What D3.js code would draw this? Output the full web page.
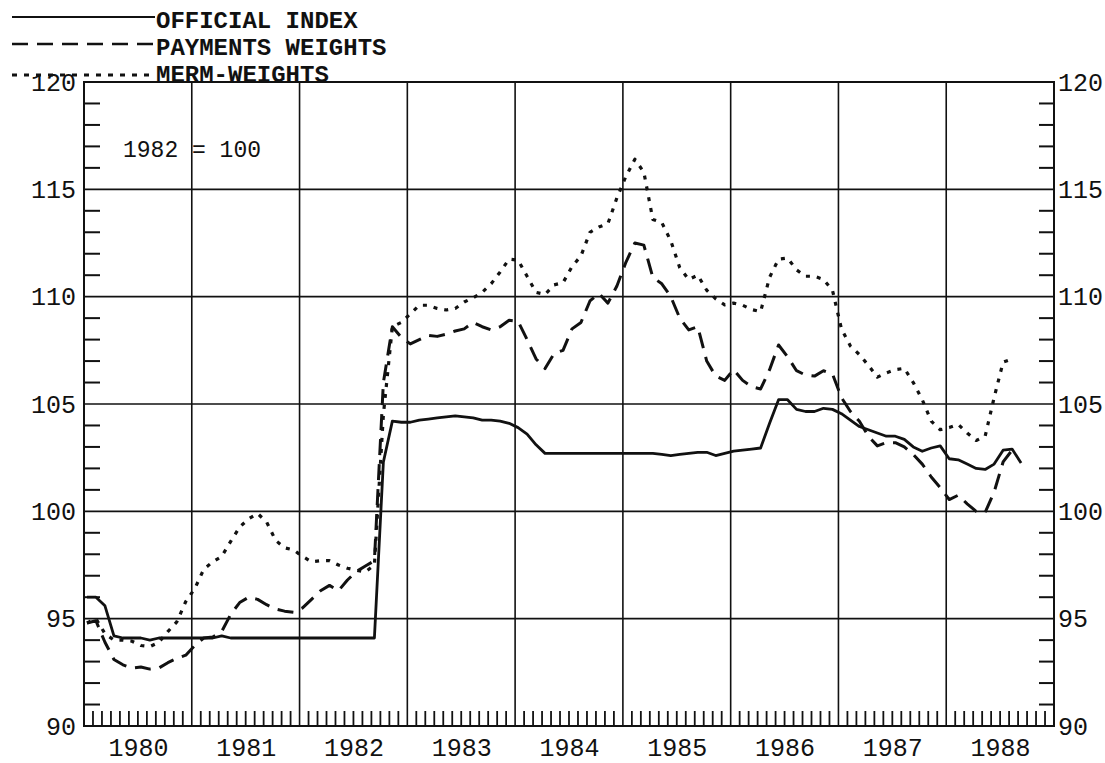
<!DOCTYPE html>
<html>
<head>
<meta charset="utf-8">
<script src="https://cdn.jsdelivr.net/npm/d3@7/dist/d3.min.js"></script>
<style>
  html, body { margin: 0; padding: 0; background: #fff; }
  svg { display: block; }
  text { font-family: "Liberation Mono", "DejaVu Sans Mono", monospace; fill: #111; }
</style>
</head>
<body>
<script>
// ---------------- DATA ----------------
const startYear = 1980;           // first monthly observation: Jan 1980
const years = [1980, 1981, 1982, 1983, 1984, 1985, 1986, 1987, 1988];
const yTickLabels = [90, 95, 100, 105, 110, 115, 120];
const seriesNames = ["OFFICIAL INDEX", "PAYMENTS WEIGHTS", "MERM-WEIGHTS"];
const baseNote = "1982 = 100";

const officialIndex = [
  96.0, 96.0, 95.6, 94.2, 94.1, 94.1, 94.1, 94.0, 94.1, 94.1, 94.1, 94.1,
  94.1, 94.1, 94.1, 94.2, 94.1, 94.1, 94.1, 94.1, 94.1, 94.1, 94.1, 94.1,
  94.1, 94.1, 94.1, 94.1, 94.1, 94.1, 94.1, 94.1, 94.1, 102.3, 104.2, 104.15,
  104.15, 104.25, 104.3, 104.35, 104.4, 104.45, 104.4, 104.35, 104.25, 104.25, 104.2, 104.1,
  103.9, 103.6, 103.1, 102.7, 102.7, 102.7, 102.7, 102.7, 102.7, 102.7, 102.7, 102.7,
  102.7, 102.7, 102.7, 102.7, 102.65, 102.6, 102.65, 102.7, 102.75, 102.75, 102.6, 102.7,
  102.8, 102.85, 102.9, 102.95, 104.1, 105.2, 105.2, 104.75, 104.65, 104.65, 104.8, 104.75,
  104.55, 104.25, 103.95, 103.8, 103.65, 103.5, 103.5, 103.35, 103.0, 102.8, 102.95, 103.05,
  102.45, 102.4, 102.2, 102.0, 101.95, 102.2, 102.85, 102.9, 102.25
];

const paymentsWeights = [
  94.8, 94.9, 93.9, 93.1, 92.85, 92.7, 92.75, 92.65, 92.7, 92.95, 93.15, 93.3,
  93.75, 94.1, 94.15, 94.4, 95.2, 95.75, 96.0, 95.9, 95.65, 95.45, 95.35, 95.3,
  95.5, 95.9, 96.3, 96.55, 96.3, 96.8, 97.2, 97.45, 97.7, 106.0, 108.6, 108.1,
  107.8, 108.0, 108.2, 108.15, 108.25, 108.4, 108.5, 108.8, 108.6, 108.45, 108.6, 108.9,
  108.85, 108.0, 107.1, 106.65, 107.35, 107.5, 108.5, 108.8, 109.8, 110.15, 109.7, 110.5,
  111.6, 112.5, 112.4, 110.9, 110.6, 110.0, 109.0, 108.45, 108.6, 107.0, 106.3, 106.1,
  106.6, 106.1, 105.8, 105.7, 106.6, 107.75, 107.2, 106.55, 106.35, 106.3, 106.55, 106.4,
  105.3, 104.65, 104.2, 103.5, 103.05, 103.2, 103.2, 103.0, 102.65, 102.2, 101.6, 101.1,
  100.55, 100.75, 100.35, 100.0, 99.95, 100.9, 102.3, 102.85
];

const mermWeights = [
  94.8, 95.0, 94.3, 94.0, 94.0, 93.95, 93.75, 93.7, 93.9, 94.4, 94.85, 95.8,
  96.4, 97.3, 97.65, 97.9, 98.6, 99.27, 99.65, 99.9, 99.5, 98.65, 98.3, 98.2,
  97.9, 97.65, 97.7, 97.7, 97.5, 97.35, 97.25, 97.18, 97.5, 104.5, 108.6, 108.8,
  109.2, 109.6, 109.6, 109.45, 109.38, 109.45, 109.75, 109.95, 110.2, 110.6, 111.15, 111.75,
  111.7, 110.95, 110.2, 110.1, 110.55, 110.65, 111.4, 111.9, 113.0, 113.25, 113.4, 114.6,
  115.6, 116.4, 115.8, 113.6, 113.45, 112.6, 111.35, 110.8, 111.0, 110.3, 109.9, 109.62,
  109.7, 109.6, 109.4, 109.3, 110.9, 111.75, 111.8, 111.25, 110.95, 110.95, 110.8, 110.3,
  108.5, 107.7, 107.3, 106.8, 106.25, 106.45, 106.6, 106.66, 106.0, 105.2, 104.2, 103.8,
  103.9, 104.05, 103.65, 103.3, 103.5, 105.3, 106.95, 107.1
];

// ---------------- LAYOUT ----------------
const W = 1105, H = 763;
const plot = { left: 84, right: 1054, top: 82, bottom: 726 };
const ink = "#111";

const svg = d3.select("body").append("svg")
  .attr("width", W).attr("height", H)
  .attr("viewBox", `0 0 ${W} ${H}`);

const x = d3.scaleLinear().domain([years[0], years[years.length - 1] + 1]).range([plot.left, plot.right]);
const y = d3.scaleLinear().domain([90, 120]).range([plot.bottom, plot.top]);

// monthly observation time (plotted slightly after the month boundary)
const tOf = i => startYear + (i + 1 / 3) / 12;

// ---------------- GRID ----------------
const g = svg.append("g");
g.selectAll("line.vgrid").data(years.slice(1)).enter().append("line")
  .attr("x1", d => x(d)).attr("x2", d => x(d))
  .attr("y1", plot.top).attr("y2", plot.bottom)
  .attr("stroke", ink).attr("stroke-width", 1.6);
g.selectAll("line.hgrid").data(yTickLabels.filter(v => v > 90 && v < 120)).enter().append("line")
  .attr("x1", plot.left).attr("x2", plot.right)
  .attr("y1", d => y(d)).attr("y2", d => y(d))
  .attr("stroke", ink).attr("stroke-width", 1.6);

const minorY = d3.range(91, 120).filter(v => v % 5 !== 0);
g.selectAll("line.ly").data(minorY).enter().append("line")
  .attr("x1", plot.left).attr("x2", plot.left + 16)
  .attr("y1", d => y(d)).attr("y2", d => y(d))
  .attr("stroke", ink).attr("stroke-width", 2);
g.selectAll("line.ry").data(minorY).enter().append("line")
  .attr("x1", plot.right - 15).attr("x2", plot.right)
  .attr("y1", d => y(d)).attr("y2", d => y(d))
  .attr("stroke", ink).attr("stroke-width", 2);

const monthTicks = [];
years.forEach(yr => { for (let m = 1; m < 12; m++) monthTicks.push(yr + m / 12); });
g.selectAll("line.mx").data(monthTicks).enter().append("line")
  .attr("x1", d => x(d)).attr("x2", d => x(d))
  .attr("y1", plot.bottom).attr("y2", plot.bottom - 15)
  .attr("stroke", ink).attr("stroke-width", 1.8);

g.append("rect")
  .attr("x", plot.left).attr("y", plot.top)
  .attr("width", plot.right - plot.left).attr("height", plot.bottom - plot.top)
  .attr("fill", "none").attr("stroke", ink).attr("stroke-width", 2);

// ---------------- AXES LABELS ----------------
const fontSize = 25;
const axL = svg.append("g").attr("transform", `translate(${plot.left},0)`)
  .call(d3.axisLeft(y).tickValues(yTickLabels).tickSize(0).tickPadding(8).tickFormat(d3.format("d")));
const axR = svg.append("g").attr("transform", `translate(${plot.right},0)`)
  .call(d3.axisRight(y).tickValues(yTickLabels).tickSize(0).tickPadding(4).tickFormat(d3.format("d")));
const axB = svg.append("g").attr("transform", `translate(0,${plot.bottom})`)
  .call(d3.axisBottom(x).tickValues(years.map(v => v + 0.5)).tickSize(0).tickPadding(12)
    .tickFormat(d => String(Math.floor(d))));
[axL, axR, axB].forEach(a => {
  a.select(".domain").remove();
  a.selectAll("text").attr("font-size", fontSize)
    .attr("font-family", "Liberation Mono, DejaVu Sans Mono, monospace").attr("fill", ink);
});

// ---------------- SERIES ----------------
const line = d3.line().x((d, i) => x(tOf(i))).y(d => y(d));
const styles = [
  { data: officialIndex, dash: null, width: 2.8 },
  { data: paymentsWeights, dash: "16,9", width: 3 },
  { data: mermWeights, dash: "4,7", width: 3.2 }
];
styles.forEach(s => {
  svg.append("path").datum(s.data)
    .attr("d", line)
    .attr("fill", "none").attr("stroke", ink)
    .attr("stroke-width", s.width)
    .attr("stroke-dasharray", s.dash)
    .attr("stroke-linejoin", "round");
});

svg.append("text").attr("x", 123).attr("y", 157)
  .attr("font-size", 23).text(baseNote);

// ---------------- LEGEND ----------------
const legendRows = [
  { y: 17, ty: 28, dash: null, width: 2.2 },
  { y: 44, ty: 55, dash: "16,9", width: 2.6 },
  { y: 75, ty: 82, dash: "5,7", width: 2.8 }
];
legendRows.forEach((r, k) => {
  svg.append("line").attr("x1", 12).attr("x2", 155)
    .attr("y1", r.y).attr("y2", r.y)
    .attr("stroke", ink).attr("stroke-width", r.width)
    .attr("stroke-dasharray", r.dash);
  svg.append("text").attr("x", 156).attr("y", r.ty)
    .attr("font-size", 24).attr("font-weight", "bold")
    .text(seriesNames[k]);
});
axL.raise();
</script>
</body>
</html>
